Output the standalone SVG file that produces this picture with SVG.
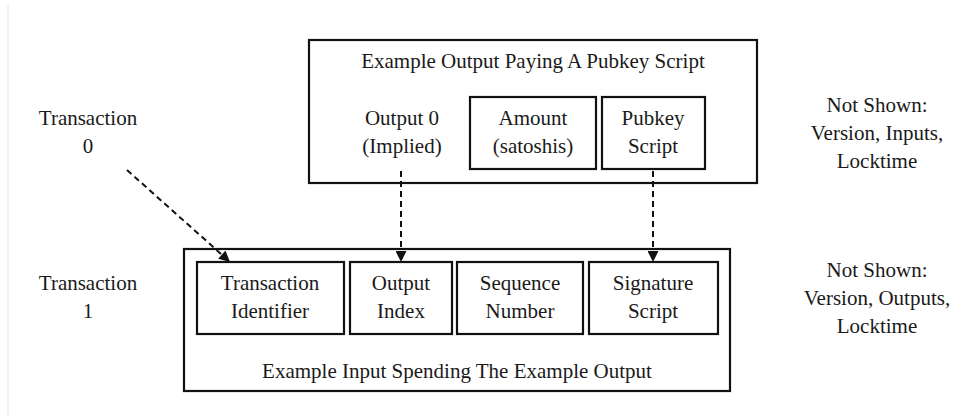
<svg xmlns="http://www.w3.org/2000/svg" width="953" height="419" viewBox="0 0 953 419">
  <style>
    text { font-family: "Liberation Serif", "Times New Roman", serif; font-size: 21px; fill: #1a1a1a; text-anchor: middle; }
    .box { fill: none; stroke: #111; stroke-width: 2.2; }
    .link { fill: none; stroke: #111; stroke-width: 2; stroke-dasharray: 6 4; }
  </style>
  <defs>
    <marker id="arrow" viewBox="0 0 10 10" refX="10" refY="5" markerWidth="6" markerHeight="5.5" markerUnits="strokeWidth" orient="auto">
      <path d="M0,0 L10,5 L0,10 z" fill="#111"/>
    </marker>
  </defs>
  <rect width="953" height="419" fill="#ffffff"/>
  <line x1="8" y1="5" x2="8" y2="415" stroke="#e2e2e2" stroke-width="1"/>

  <g id="tx0-label">
    <text x="88" y="125">Transaction</text>
    <text x="88" y="153">0</text>
  </g>
  <g id="tx1-label">
    <text x="88" y="290">Transaction</text>
    <text x="88" y="318">1</text>
  </g>
  <g id="not-shown-0">
    <text x="877" y="112">Not Shown:</text>
    <text x="877" y="140">Version, Inputs,</text>
    <text x="877" y="168">Locktime</text>
  </g>
  <g id="not-shown-1">
    <text x="877" y="277">Not Shown:</text>
    <text x="877" y="305">Version, Outputs,</text>
    <text x="877" y="333">Locktime</text>
  </g>

  <g id="output">
    <rect class="box" x="309" y="40" width="448" height="143"/>
    <text x="533" y="68">Example Output Paying A Pubkey Script</text>
    <text x="402" y="125">Output 0</text>
    <text x="402" y="153">(Implied)</text>
  </g>
  <g id="amount">
    <rect class="box" x="470" y="97" width="126" height="72"/>
    <text x="533" y="125">Amount</text>
    <text x="533" y="153">(satoshis)</text>
  </g>
  <g id="pubkey-script">
    <rect class="box" x="602" y="97" width="103" height="72"/>
    <text x="653" y="125">Pubkey</text>
    <text x="653" y="153">Script</text>
  </g>

  <g id="input">
    <rect class="box" x="184" y="249" width="546" height="142"/>
    <text x="457" y="378">Example Input Spending The Example Output</text>
  </g>
  <g id="txid">
    <rect class="box" x="197" y="262" width="147" height="72"/>
    <text x="270" y="290">Transaction</text>
    <text x="270" y="318">Identifier</text>
  </g>
  <g id="output-index">
    <rect class="box" x="350" y="262" width="102" height="72"/>
    <text x="401" y="290">Output</text>
    <text x="401" y="318">Index</text>
  </g>
  <g id="sequence">
    <rect class="box" x="457" y="262" width="126" height="72"/>
    <text x="520" y="290">Sequence</text>
    <text x="520" y="318">Number</text>
  </g>
  <g id="signature-script">
    <rect class="box" x="589" y="262" width="129" height="72"/>
    <text x="653" y="290">Signature</text>
    <text x="653" y="318">Script</text>
  </g>

  <g id="connectors">
    <line class="link" x1="127" y1="170" x2="230" y2="262" marker-end="url(#arrow)"/>
    <line class="link" x1="401" y1="171" x2="401" y2="262" marker-end="url(#arrow)"/>
    <line class="link" x1="653" y1="171" x2="653" y2="262" marker-end="url(#arrow)"/>
  </g>
</svg>
